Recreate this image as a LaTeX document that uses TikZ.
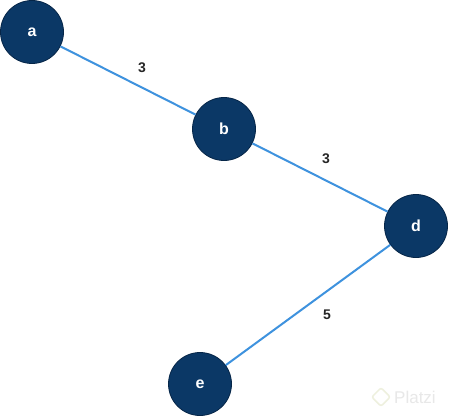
\documentclass[tikz,border=0pt]{standalone}
\usepackage{fontspec}
\setmainfont{Liberation Sans}
\definecolor{navy}{RGB}{11,56,102}
\definecolor{navyedge}{RGB}{6,38,72}
\definecolor{edgeblue}{RGB}{62,146,222}
\definecolor{wm}{RGB}{232,232,232}
\definecolor{wmlogo}{RGB}{238,240,222}
\tikzset{
  vertex/.style={circle, fill=navy, draw=navyedge, line width=0.8pt, minimum size=63pt, inner sep=0pt, text=white, font=\fontsize{16}{16}\selectfont\bfseries},
  link/.style={draw=edgeblue, line width=2pt},
  weight/.style={font=\fontsize{14}{14}\selectfont\bfseries, text=black!85}
}
\begin{document}
\begin{tikzpicture}[x=1pt,y=-1pt]
\useasboundingbox[fill=white] (0,0) rectangle (449,417);
\node[vertex] (a) at (32,32) {a};
\node[vertex] (b) at (224,129) {b};
\node[vertex] (d) at (416,226) {d};
\node[vertex] (e) at (200,384) {e};
\draw[link] (a) -- (b);
\draw[link] (b) -- (d);
\draw[link] (d) -- (e);
\node[weight] (w1) at (142,68) {3};
\node[weight] (w2) at (326,159) {3};
\node[weight] (w3) at (327,315) {5};
\node[rounded corners=2pt, draw=wmlogo, line width=1.5pt, rotate=45, minimum size=13pt, inner sep=0pt] (logo) at (381,397) {};
\node[text=wm, font=\fontsize{17}{17}\selectfont, anchor=west, inner sep=0pt] (wmtext) at (394,397) {Platzi};
\end{tikzpicture}
\end{document}
